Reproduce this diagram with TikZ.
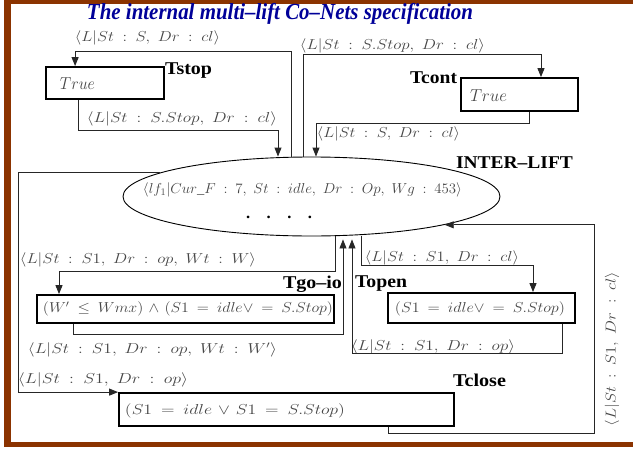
\documentclass[tikz,border=0pt]{standalone}
\usepackage[no-math]{fontspec}
\setmainfont{Liberation Serif}
\usetikzlibrary{arrows.meta,shapes.geometric}
\definecolor{framec}{RGB}{139,51,0}
\definecolor{titlec}{RGB}{0,0,153}
\definecolor{labc}{RGB}{70,70,70}
\newcommand\qcl{\mathrel{\hspace{0.25em}{:}\hspace{0.25em}}}
\newcommand\qcm{,\hspace{0.3em}}
\newcommand\fw[2]{\resizebox{#1pt}{\height}{#2}}
\newcommand\fwb[2]{\resizebox{#1pt}{\height}{\thickmuskip=9mu\relax\medmuskip=6mu\relax #2}}
\begin{document}
\begin{tikzpicture}[x=1pt,y=-1pt,
  conn/.style={draw=black!85,line width=0.9pt},
  arr/.style={conn,-{Triangle[length=9pt,width=7pt]}},
  tbox/.style={draw=black,line width=1.8pt,inner sep=0pt},
  lab/.style={text=labc,inner sep=0pt,font=\fontsize{14}{16}\selectfont},
  btxt/.style={text=labc,inner sep=0pt,font=\fontsize{14}{16}\selectfont},
  nm/.style={inner sep=0pt,font=\fontsize{18}{21}\selectfont\bfseries}]
\useasboundingbox (0,0) rectangle (633,450);
\fill[white] (0,0) rectangle (633,450);
\fill[framec] (4,0) rectangle (633,3.5);
\fill[framec] (4,0) rectangle (10.5,447);
\fill[framec] (4,442) rectangle (633,447);

\node[inner sep=0pt,text=titlec,font=\fontsize{23}{26}\selectfont\bfseries\itshape] (title) at (280,14) {\fw{386}{The internal multi–lift Co–Nets specification}};

% boxes
\node[tbox,minimum width=118pt,minimum height=32pt] (tstop) at (105,83) {};
\node[tbox,minimum width=117pt,minimum height=33pt] (tcont) at (519.5,94.5) {};
\node[tbox,minimum width=297pt,minimum height=28pt] (tgo) at (185.5,309) {};
\node[tbox,minimum width=187pt,minimum height=30pt] (topen) at (481.5,308) {};
\node[tbox,minimum width=335pt,minimum height=33pt] (tclose) at (286.5,409.5) {};
\node[draw=black,line width=0.9pt,ellipse,minimum width=377pt,minimum height=79pt,inner sep=0pt] (ell) at (311.5,196.5) {};

% texts in boxes
\node[btxt,font=\fontsize{16.5}{18}\selectfont] (true1) at (77.5,84) {\fw{35}{$True$}};
\node[btxt,font=\fontsize{16.5}{18}\selectfont] (true2) at (488.5,96) {\fw{37}{$True$}};
\node[btxt] (gotxt) at (188,309) {\fwb{290}{$(W'\le Wmx)\wedge(S1=idle\vee=S.Stop)$}};
\node[btxt] (optxt) at (480,309) {\fwb{170}{$(S1=idle\vee=S.Stop)$}};
\node[btxt,font=\fontsize{15.5}{18}\selectfont] (cltxt) at (235,411) {\fwb{220}{$(S1=idle\vee S1=S.Stop)$}};
\node[btxt,font=\fontsize{14}{16}\selectfont] (elltxt) at (302.5,190) {\fw{319}{$\langle lf_1|Cur\_F\qcl 7\qcm St\qcl idle\qcm Dr\qcl Op\qcm Wg\qcl 453\rangle$}};
\node[inner sep=0pt,font=\fontsize{16}{18}\selectfont\bfseries] (dots) at (279,217) {\fw{66}{.\hspace{1em}.\hspace{1em}.\hspace{1em}.}};

% transition names
\node[nm] (nstop) at (188.5,71) {\fw{47}{Tstop}};
\node[nm] (ncont) at (433.5,78) {\fw{47}{Tcont}};
\node[nm] (ninter) at (514.5,163) {\fw{117}{INTER–LIFT}};
\node[nm] (ngo) at (312.5,284) {\fw{59}{Tgo–io}};
\node[nm] (nopen) at (381,284) {\fw{52}{Topen}};
\node[nm] (nclose) at (479.5,380) {\fw{53}{Tclose}};

% arc labels
\node[lab] (l1) at (147.5,38) {\fw{145}{$\langle L|St\qcl S\qcm Dr\qcl cl\rangle$}};
\node[lab] (l2) at (182,119) {\fw{190}{$\langle L|St\qcl S.Stop\qcm Dr\qcl cl\rangle$}};
\node[lab] (l3) at (392.5,46) {\fw{185}{$\langle L|St\qcl S.Stop\qcm Dr\qcl cl\rangle$}};
\node[lab] (l4) at (388.5,134) {\fw{143}{$\langle L|St\qcl S\qcm Dr\qcl cl\rangle$}};
\node[lab] (l5) at (138,260) {\fw{236}{$\langle L|St\qcl S1\qcm Dr\qcl op\qcm Wt\qcl W\rangle$}};
\node[lab] (l6) at (442,258) {\fw{154}{$\langle L|St\qcl S1\qcm Dr\qcl cl\rangle$}};
\node[lab] (l7) at (152.5,350) {\fw{249}{$\langle L|St\qcl S1\qcm Dr\qcl op\qcm Wt\qcl W'\rangle$}};
\node[lab] (l8) at (433,347) {\fw{164}{$\langle L|St\qcl S1\qcm Dr\qcl op\rangle$}};
\node[lab] (l9) at (103,380) {\fw{170}{$\langle L|St\qcl S1\qcm Dr\qcl op\rangle$}};
\node[lab,rotate=90] (l10) at (612,349) {\fw{154}{$\langle L|St\qcl S1\qcm Dr\qcl cl\rangle$}};

% connectors
\coordinate (a1) at (291,51);
\draw[arr] (ell.north -| a1) -- (a1) -| ([xshift=30pt]tstop.north west);
\coordinate (a2) at (78,130); \coordinate (a2b) at (278,0);
\draw[arr] (tstop.south -| a2) -- (a2) -| (ell.north -| a2b);
\coordinate (a3) at (303,54); \coordinate (a3b) at (541,0);
\draw[arr] (ell.north -| a3) -- (a3) -| (tcont.north -| a3b);
\coordinate (a4) at (529,123); \coordinate (a4b) at (316,0);
\draw[arr] (tcont.south -| a4) -- (a4) -| (ell.north -| a4b);
\coordinate (a5) at (18,0);
\draw[arr] (ell.171) -- (ell.171 -| a5) |- (tclose.north west);
\coordinate (a6) at (388,0); \coordinate (a6b) at (594,433);
\draw[arr] (tclose.south -| a6) |- (a6b) |- (ell.348);
\coordinate (a7) at (335,271); \coordinate (a7b) at (59,0);
\draw[arr] (ell.south -| a7) -- (a7) -| (tgo.north -| a7b);
\coordinate (a8) at (73,334); \coordinate (a8b) at (343,0);
\draw[arr,shorten >=3pt] (tgo.south -| a8) -- (a8) -| (ell.south -| a8b);
\coordinate (a9) at (361,265); \coordinate (a9b) at (533,0);
\draw[arr] (ell.south -| a9) -- (a9) -| (topen.north -| a9b);
\coordinate (a10) at (562,353); \coordinate (a10b) at (352,0);
\draw[arr,shorten >=3pt] (topen.south -| a10) -- (a10) -| (ell.south -| a10b);
\end{tikzpicture}
\end{document}
